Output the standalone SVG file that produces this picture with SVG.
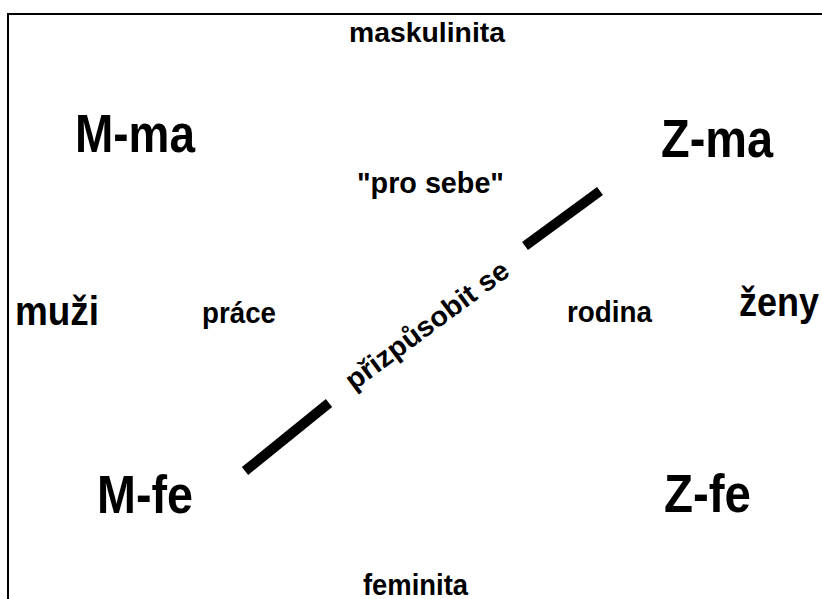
<svg xmlns="http://www.w3.org/2000/svg" width="822" height="599" viewBox="0 0 822 599">
<style>
text{font-family:"Liberation Sans",Arial,sans-serif;font-weight:bold;fill:#000}
.big{font-size:53px}
.mid{font-size:40px}
.sm{font-size:30px}
.ax{font-size:27px}
.link{stroke:#000;stroke-width:10;fill:none}
</style>
<rect x="0" y="0" width="822" height="599" fill="#fff"/>
<rect x="8" y="14" width="830" height="600" fill="none" stroke="#000" stroke-width="2"/>
<g id="connectors">
<line class="link" x1="245" y1="471" x2="329" y2="403"/>
<line class="link" x1="525" y1="246" x2="600" y2="191"/>
</g>
<g id="maskulinita"><text class="ax" x="349" y="42" textLength="156" lengthAdjust="spacingAndGlyphs">maskulinita</text></g>
<g id="feminita"><text class="ax" x="363" y="595" style="font-size:30px" textLength="105" lengthAdjust="spacingAndGlyphs">feminita</text></g>
<g id="M-ma"><text class="big" x="75" y="152" textLength="120" lengthAdjust="spacingAndGlyphs">M-ma</text></g>
<g id="Z-ma"><text class="big" x="661" y="157" textLength="112" lengthAdjust="spacingAndGlyphs">Z-ma</text></g>
<g id="M-fe"><text class="big" x="97" y="513" textLength="96" lengthAdjust="spacingAndGlyphs">M-fe</text></g>
<g id="Z-fe"><text class="big" x="664" y="512" textLength="87" lengthAdjust="spacingAndGlyphs">Z-fe</text></g>
<g id="pro-sebe"><text class="sm" x="357" y="193" style="font-size:29px" textLength="147" lengthAdjust="spacingAndGlyphs">"pro sebe"</text></g>
<g id="muzi"><text class="mid" x="15" y="325" textLength="84" lengthAdjust="spacingAndGlyphs">muži</text></g>
<g id="prace"><text class="sm" x="202" y="323" textLength="74" lengthAdjust="spacingAndGlyphs">práce</text></g>
<g id="rodina"><text class="sm" x="567" y="322" textLength="85" lengthAdjust="spacingAndGlyphs">rodina</text></g>
<g id="zeny"><text class="mid" x="739" y="316" textLength="80" lengthAdjust="spacingAndGlyphs">ženy</text></g>
<g id="prizpusobit"><text class="sm" x="0" y="0" style="font-size:28px" text-anchor="middle" dominant-baseline="central" textLength="196" lengthAdjust="spacingAndGlyphs" transform="translate(427,325) rotate(-36.5)">přizpůsobit se</text></g>
</svg>
